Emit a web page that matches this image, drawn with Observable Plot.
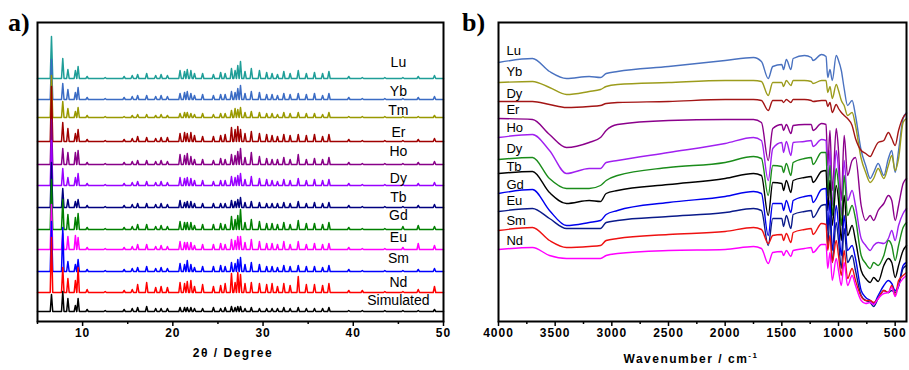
<!DOCTYPE html>
<html><head><meta charset="utf-8">
<script src="https://cdn.jsdelivr.net/npm/d3@7"></script>
<script src="https://cdn.jsdelivr.net/npm/@observablehq/plot@0.6"></script>
<style>
html,body{margin:0;padding:0;background:#fff;}
#wrap{position:relative;width:909px;height:370px;overflow:hidden;font-family:"Liberation Sans",Arial,sans-serif;}
#wrap svg{position:absolute;top:0;}
.tag{position:absolute;font-family:"Liberation Serif","Times New Roman",serif;font-weight:bold;font-size:26px;line-height:26px;}
.title{position:absolute;font-weight:bold;font-size:12px;line-height:12px;letter-spacing:1.5px;transform:translateX(-50%);white-space:nowrap;}
.title sup{font-size:8px;line-height:0;}
g[aria-label="x-axis tick label"]{font-weight:bold;letter-spacing:1px;font-size:12px;}
</style></head>
<body>
<div id="wrap">
  <div class="tag" style="left:8px;top:10px;">a)</div>
  <div class="tag" style="left:462px;top:10px;">b)</div>
  <div class="title" style="left:233px;top:347px;">2θ / Degree</div>
  <div class="title" style="left:691px;top:353px;">Wavenumber / cm<sup>-1</sup></div>
</div>
<script>
// ---------- Panel a: PXRD ----------
const xrdSeries  = ["Lu","Yb","Tm","Er","Ho","Dy","Tb","Gd","Eu","Sm","Nd","Simulated"];
const xrdColors  = ["#1f9e98","#3b6cc4","#999900","#a00000","#880088","#9900ff","#000080","#008000","#ff00ff","#0000ff","#ff0000","#000000"];
const xrdOffsets = [243, 222, 204, 180, 157, 136, 114, 92, 72, 50, 29, 10];
const xrdLabelY  = [259, 230, 211, 189, 170, 143, 124, 106, 83.5, 63, 39, 21];
const xrdLabelX  = 45;
const xrdPeaks = [6.55,7.8,8.37,9.2,9.5,10.5,12.5,14.6,15.5,16.1, 17.1,18.1,18.7,19.4,20.8,21.3,21.6,22.0,22.4,23.3,
                  24.5,25.3,25.8,26.5,26.9,27.2,27.5,28.0,28.7,29.6, 30.4,31.0,31.6,32.3,33.0,33.9,34.8,35.7,36.6,37.3,
                  39.5,41.0,43.5,45.5,47.2,49.0];
const hLu  = [42,20,9,8,12,2,1,2,3,4, 5,3,4,3,8,7,9,8,5,5, 4,6,5,10,8,13,17,7,10,8, 6,5,4,7,5,8,5,6,5,7, 2,1,1,1,2,3];
const hYb  = [40,16,10,7,12,2,1,2,3,4, 4,3,4,3,6,7,8,6,4,5, 4,5,5,8,7,11,14,6,8,7, 5,5,4,6,5,6,5,6,4,6, 2,1,1,1,2,3];
const hTm  = [42,16,9,6,10,2,1,1,2,3, 3,2,3,2,4,5,5,4,3,4, 3,4,4,7,9,8,10,5,6,5, 4,4,3,5,4,5,4,4,3,5, 1,1,1,1,1,2];
const hEr  = [55,19,13,8,12,2,1,2,3,5, 4,3,4,4,8,9,8,9,6,5, 5,6,7,14,12,15,12,8,10,8, 7,6,5,7,6,7,6,7,5,7, 2,1,1,1,2,3];
const hHo  = [45,16,12,12,14,2,1,2,3,4, 4,3,4,3,10,9,11,8,5,5, 4,6,5,10,9,13,16,7,12,8, 6,5,5,7,5,10,5,6,5,7, 2,1,1,1,2,3];
const hDy  = [45,17,8,8,12,2,1,2,3,4, 4,3,4,3,8,7,8,7,5,5, 4,5,5,9,8,10,12,6,9,7, 6,5,4,6,5,7,5,6,5,6, 2,1,1,1,2,3];
const hTb  = [45,19,8,6,8,2,1,2,3,4, 4,3,4,3,7,5,6,6,4,4, 4,4,4,7,6,8,10,5,6,5, 4,4,4,5,4,6,4,5,4,5, 2,1,1,1,2,3];
const hGd  = [50,30,15,12,16,2,1,2,3,5, 5,3,4,3,8,7,7,7,4,5, 5,6,5,13,10,14,20,7,10,8, 6,6,5,7,5,9,6,6,5,7, 2,1,1,3,4,3];
const hEu  = [45,16,13,14,12,2,1,2,3,5, 5,3,4,3,8,7,7,7,4,5, 5,6,5,10,9,13,13,7,10,8, 6,6,5,8,5,8,5,6,5,6, 2,1,1,2,6,4];
const hSm  = [50,44,10,7,12,2,1,2,3,4, 5,3,4,3,8,7,11,7,4,5, 5,6,5,9,8,12,14,7,9,7, 5,5,4,6,5,6,5,5,4,6, 2,1,1,1,2,3];
const hNd  = [55,25,14,12,25,3,1,2,3,8, 10,5,6,5,10,9,11,12,6,8, 6,7,9,19,10,20,18,9,10,9, 8,9,6,9,7,16,8,8,7,9, 2,2,1,1,3,6];
const hSim = [17,20,13,6,13,2,1,2,3,4, 5,3,3,3,4,4,4,4,3,3, 4,3,4,5,4,5,5,3,4,3, 3,3,3,4,3,4,3,3,3,4, 1,1,1,1,1,2];
const xrdHeights = [hLu,hYb,hTm,hEr,hHo,hDy,hTb,hGd,hEu,hSm,hNd,hSim];
const xrdMajor = [10,20,30,40,50];
const xrdMinor = [5,15,25,35,45];

// ---------- Panel b: FT-IR ----------
const irSeries = ["Lu","Yb","Dy","Er","Ho","Dy","Tb","Gd","Eu","Sm","Nd"];
const irColors = ["#4a72c0","#9c9c1c","#a31515","#8b008b","#a020f0","#1a8c1a","#000000","#0000ee","#0a1a8a","#ee1111","#ff00ff"];
const irLabelY = [50, 71.5, 93.5, 109.5, 127, 148, 166, 184, 200, 220.5, 240];
const irLabelX = 3930;
const irWavenumbers = [4000,3700,3550,3400,3200,3100,3050,2950,2500,2000, 1750,1680,1620,1580,1500,1485,1460,1420,1400,1300,
                       1240,1225,1150,1110,1095,1075,1055,1020,1000,975, 950,920,880,850,800,760,720,690,650,600,
                       560,530,500,470,430,400];
// stacked absorbance offsets (a.u., larger = lower on the chart)
const irLu = [62,58,71,78,76,77,73,71,66,60, 57,61,78,66,64,69,59,69,58,55, 57,60,54,56,77,69,80,55,60,70, 88,105,100,115,150,165,178,172,163,175, 158,150,172,150,118,112];
const irYb = [82,81,87,94,91,89,86,84,82,80, 80,81,95,82,82,86,80,85,80,80, 81,83,80,80,92,86,98,84,90,100, 105,115,112,125,158,172,182,178,168,178, 165,155,170,158,122,118];
const irDy1 = [101,101,104,107,106,105,103,102,101,99, 99,100,110,100,100,102,99,102,99,99, 100,101,100,100,106,102,112,104,108,112, 115,118,125,138,150,153,156,150,142,140, 132,138,145,130,117,113];
const irEr = [118,119,134,147,142,137,130,124,120,119, 119,122,160,128,124,130,124,133,125,124, 124,130,123,124,165,130,190,128,150,200, 135,175,160,157,205,220,215,220,210,203, 195,200,220,205,183,178];
const irHo = [137,134,150,173,168,168,162,160,152,143, 137,140,180,148,142,152,141,155,142,141, 140,146,139,140,185,150,205,150,170,215, 160,200,190,205,238,245,250,245,242,243, 238,230,240,225,213,208];
const irDy2 = [159,157,178,188,188,185,180,175,167,162, 156,158,195,165,166,172,163,175,162,158, 157,164,152,152,195,165,215,168,185,225, 175,215,205,218,255,263,268,262,265,255, 240,245,260,245,227,222];
const irTb = [173,171,192,203,200,201,193,190,184,178, 173,175,215,182,183,190,180,192,180,177, 176,182,171,170,210,180,225,185,200,240, 195,235,225,240,270,278,282,277,281,265, 258,262,277,265,250,245];
const irGd = [193,189,210,225,222,220,214,210,202,196, 191,193,235,203,203,210,200,212,200,196, 195,202,189,188,230,200,250,205,225,255, 215,250,245,258,290,297,300,303,295,285, 280,283,290,285,265,262];
const irEu = [211,208,218,228,228,228,222,220,216,212, 208,210,245,218,218,226,215,228,214,211, 210,217,205,204,245,215,262,222,240,268, 228,262,255,270,295,300,302,306,298,290, 292,290,292,286,268,265];
const irSm = [230,227,240,247,246,245,240,238,234,231, 227,229,243,235,234,240,233,242,232,229, 228,234,223,224,250,235,262,240,255,275, 250,278,268,280,296,300,300,302,298,290, 292,285,295,280,275,272];
const irNd = [249,247,255,258,258,258,255,253,250,249, 246,248,263,252,251,255,250,256,250,248, 247,252,244,244,268,252,280,258,270,285, 262,285,275,285,300,303,302,304,298,293, 292,287,296,285,278,275];
const irValues = [irLu,irYb,irDy1,irEr,irHo,irDy2,irTb,irGd,irEu,irSm,irNd];
const irMajor = [4000,3500,3000,2500,2000,1500,1000,500];
const irMinor = [3750,3250,2750,2250,1750,1250,750];

const font = '"Liberation Sans", Arial, sans-serif';
const peakHalfWidth = 0.14;
const plain = d => String(d);

// build XRD line tables
const xrdLines = xrdSeries.map((name, i) => {
  const off = xrdOffsets[i], hs = xrdHeights[i];
  const pts = [{x: 5, y: off}];
  xrdPeaks.forEach((p, j) => {
    pts.push({x: p - peakHalfWidth, y: off}, {x: p, y: off + hs[j]}, {x: p + peakHalfWidth, y: off});
  });
  pts.push({x: 50, y: off});
  return pts;
});
const xrdLabels = xrdSeries.map((name, i) => ({name, x: xrdLabelX, y: xrdLabelY[i]}));

const plotA = Plot.plot({
  width: 455, height: 370,
  marginLeft: 37, marginRight: 12, marginTop: 22, marginBottom: 49,
  style: {fontFamily: font, fontSize: "12px", background: "transparent"},
  x: {domain: [5, 50], label: null},
  y: {domain: [0, 299], axis: null},
  marks: [
    ...xrdLines.map((pts, i) => Plot.line(pts, {x: "x", y: "y", stroke: xrdColors[i], strokeWidth: 1.5})),
    Plot.text(xrdLabels, {x: "x", y: "y", text: "name", textAnchor: "middle", lineAnchor: "middle", fontSize: 14, fill: "black"}),
    Plot.frame({stroke: "black", strokeWidth: 2}),
    Plot.axisX({ticks: xrdMajor, tickSize: 5, tickPadding: 2, tickFormat: plain, label: null, fontWeight: "bold", strokeWidth: 1.5}),
    Plot.axisX({ticks: xrdMinor, tickSize: 3, tickFormat: () => "", label: null, strokeWidth: 1.5})
  ]
});
plotA.style.left = "0px";

const irLines = irValues.map(vals => irWavenumbers.map((w, j) => ({w, a: vals[j]})));
const irLabels = irSeries.map((name, i) => ({name, x: irLabelX, y: irLabelY[i]}));

const plotB = Plot.plot({
  width: 454, height: 370,
  marginLeft: 43, marginRight: 3, marginTop: 22, marginBottom: 49,
  style: {fontFamily: font, fontSize: "12px", background: "transparent"},
  x: {domain: [4000, 400], label: null},
  y: {domain: [22, 321], reverse: true, axis: null},
  marks: [
    ...irLines.map((pts, i) => Plot.line(pts, {x: "w", y: "a", stroke: irColors[i], strokeWidth: 1.4, curve: "monotone-x"})),
    Plot.text(irLabels, {x: "x", y: "y", text: "name", textAnchor: "start", lineAnchor: "middle", fontSize: 13, fill: "black"}),
    Plot.frame({stroke: "black", strokeWidth: 2}),
    Plot.axisX({ticks: irMajor, tickSize: 5, tickPadding: 2, tickFormat: plain, label: null, fontWeight: "bold", strokeWidth: 1.5}),
    Plot.axisX({ticks: irMinor, tickSize: 3, tickFormat: () => "", label: null, strokeWidth: 1.5})
  ]
});
plotB.style.left = "455px";

const wrap = document.getElementById("wrap");
wrap.appendChild(plotA);
wrap.appendChild(plotB);
</script>
</body></html>
